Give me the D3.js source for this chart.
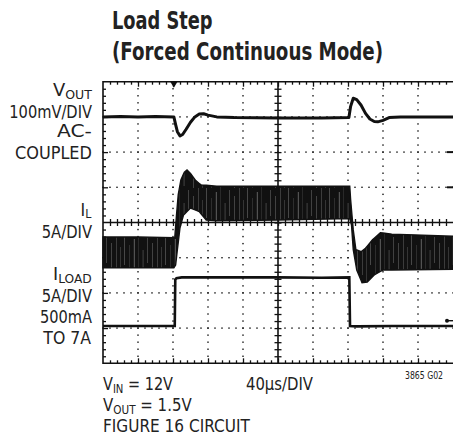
<!DOCTYPE html>
<html><head><meta charset="utf-8">
<script src="https://cdn.jsdelivr.net/npm/d3@7"></script>
<style>
html,body{margin:0;padding:0;background:#fff;}
svg{display:block;}
text{font-family:"Liberation Sans Narrow","Arial Narrow","DejaVu Sans Condensed",sans-serif;fill:#222;}
</style></head>
<body>
<svg id="c" width="453" height="437"></svg>
<script>
// ---------- DATA ----------
const titleLines = ["Load Step", "(Forced Continuous Mode)"];
const leftLabels = [
  {main:"V", sub:"OUT"}, {main:"100mV/DIV"}, {main:"AC-"}, {main:"COUPLED"},
  {main:"I", sub:"L"}, {main:"5A/DIV"},
  {main:"I", sub:"LOAD"}, {main:"5A/DIV"}, {main:"500mA"}, {main:"TO 7A"}
];
const bottomLabels = [
  {main:"V", sub:"IN", rest:" = 12V"},
  {main:"V", sub:"OUT", rest:" = 1.5V"},
  {main:"FIGURE 16 CIRCUIT"}
];
const timebaseLabel = "40µs/DIV";
const figureId = "3865 G02";

// time axis: 10 div x 40us
const timeDomain = [0, 400];
const divDomain = [-4, 4];

// VOUT (AC coupled, mV) – 100mV/DIV, trace centred at +3 div
const voutT  = [0, 20, 40, 60, 81, 83, 85, 88, 91, 95, 100, 105, 110, 115, 120, 130, 150, 200, 250, 281, 283, 286, 290, 295, 300, 305, 310, 314, 320, 327, 340, 370, 400];
const voutMV = [0, 1, 0, 1, 0, -22, -42, -54, -50, -35, -15, 0, 8, 9, 5, 0, -2, -3, -3, -2, 30, 53, 49, 33, 10, -6, -13, -14, -10, -2, 0, 0, 0];

// IL envelope (A) – 5A/DIV
const ilT     = [0, 40, 81, 82, 84, 86, 89, 93, 96, 100, 106, 112, 130, 200, 282, 283, 286, 289, 295, 300, 308, 317, 330, 400];
const ilUpper = [2.7, 2.7, 2.6, 2.6, 5.8, 8.7, 10.8, 11.9, 12.2, 11.7, 10.7, 10.1, 9.9, 9.9, 9.9, 8.0, 3.7, 0.9, 0.6, 1.1, 2.3, 3.3, 3.1, 2.8];
const ilT2    = [0, 81, 83, 85, 88, 92, 100, 110, 118, 130, 200, 282, 284, 286, 290, 296, 302, 310, 320, 400];
const ilLower = [-1.7, -1.7, -1.3, 0.9, 4.0, 5.8, 6.8, 6.3, 5.1, 5.0, 5.1, 5.3, 4.4, 0.9, -2.0, -3.8, -3.7, -2.7, -2.0, -1.9];

// ILOAD (A) – 5A/DIV
const iloadT = [0, 40, 82, 82.6, 84, 90, 150, 200, 250, 281.5, 282.3, 290, 330, 400];
const iloadA = [0.5, 0.5, 0.5, 7.1, 7.3, 7.4, 7.4, 7.4, 7.35, 7.4, 0.5, 0.45, 0.5, 0.5];

// trace reference positions (divisions from centre) and units per division
const voutPos = 3, voutPerDiv = 100;
const ilPos = -0.95, ilPerDiv = 5;
const iloadPos = -3.04, iloadPerDiv = 5;

// ---------- DRAW ----------
const svg = d3.select("#c");
const L = 103, R = 453, T = 81.7, B = 363.3;
const x = d3.scaleLinear().domain(timeDomain).range([L, R]);
const y = d3.scaleLinear().domain(divDomain).range([B, T]);
const cx = x(200), cy = y(0);
const ink = "#111";

// ripple texture for the inductor current band (purely cosmetic)
const defs = svg.append("defs");
const pat = defs.append("pattern").attr("id","ripple").attr("patternUnits","userSpaceOnUse").attr("width",41).attr("height",47);
pat.append("rect").attr("width",41).attr("height",47).attr("fill",ink);
[[1.5,0.5,0.45,0,30],[6.2,0.4,0.3,10,47],[10.9,0.6,0.55,4,38],[15.1,0.4,0.25,0,47],
 [19.8,0.5,0.4,15,45],[24.6,0.4,0.5,2,28],[29.3,0.6,0.35,8,47],[34.0,0.4,0.45,0,40],[38.2,0.5,0.3,12,47]]
 .forEach(([px,w,o,y0,y1]) =>
  pat.append("rect").attr("x",px).attr("y",y0).attr("width",w).attr("height",y1-y0).attr("fill","#fff").attr("opacity",o));

// dotted grid
const minorT = d3.range(0, 400.01, 8);
const minorD = d3.range(-4, 4.01, 0.2);
const g = svg.append("g");
[-3,-2,-1,1,2,3].forEach(d => {
  g.selectAll(null).data(minorT).enter().append("rect")
    .attr("x", t => x(t) - 0.7).attr("y", y(d) - 0.7).attr("width", 1.4).attr("height", 1.4).attr("fill", ink);
});
[40,80,120,160,240,280,320,360].forEach(t => {
  g.selectAll(null).data(minorD).enter().append("rect")
    .attr("x", x(t) - 0.7).attr("y", dd => y(dd) - 0.7).attr("width", 1.4).attr("height", 1.4).attr("fill", ink);
});

// frame
g.append("path").attr("d", `M${R},${T}H${L}V${B}H${R}`).attr("fill","none").attr("stroke",ink).attr("stroke-width",1.6);

function axisStyle(sel){ sel.select(".domain").remove(); sel.selectAll("line").attr("stroke", ink).attr("stroke-width", 1.3); sel.selectAll("text").remove(); }
const minorTv = minorT.filter(t => t % 40 !== 0);
const majorTv = d3.range(40, 400, 40);
const minorDv = minorD.filter(d => Math.abs(d - Math.round(d)) > 1e-6);
const majorDv = [-3,-2,-1,1,2,3];
svg.append("g").attr("transform",`translate(0,${T})`).call(d3.axisBottom(x).tickValues(minorTv).tickSize(3)).call(axisStyle);
svg.append("g").attr("transform",`translate(0,${T})`).call(d3.axisBottom(x).tickValues(majorTv).tickSize(5)).call(axisStyle);
svg.append("g").attr("transform",`translate(0,${B})`).call(d3.axisTop(x).tickValues(minorTv).tickSize(3)).call(axisStyle);
svg.append("g").attr("transform",`translate(0,${B})`).call(d3.axisTop(x).tickValues(majorTv).tickSize(5)).call(axisStyle);
svg.append("g").attr("transform",`translate(${L},0)`).call(d3.axisRight(y).tickValues(minorDv).tickSize(3)).call(axisStyle);
svg.append("g").attr("transform",`translate(${L},0)`).call(d3.axisRight(y).tickValues(majorDv).tickSize(5)).call(axisStyle);

// centre axes with crossing ticks
g.append("line").attr("x1",L).attr("x2",R).attr("y1",cy).attr("y2",cy).attr("stroke",ink).attr("stroke-width",1.6);
g.append("line").attr("x1",cx).attr("x2",cx).attr("y1",T).attr("y2",B).attr("stroke",ink).attr("stroke-width",1.6);
svg.append("g").attr("transform",`translate(0,${cy - 3.5})`).call(d3.axisBottom(x).tickValues(minorT.filter(t=>t>0&&t<400)).tickSize(7)).call(axisStyle);
svg.append("g").attr("transform",`translate(${cx - 3.5},0)`).call(d3.axisRight(y).tickValues(minorD.filter(d=>d>-4&&d<4)).tickSize(7)).call(axisStyle);

// scope markers
svg.append("path").attr("d", d3.symbol(d3.symbolTriangle, 22)()).attr("transform",`translate(${x(81)},${T+2}) rotate(180)`).attr("fill",ink);
[2, 1].forEach(d => svg.append("line").attr("x1", R-6).attr("x2", R).attr("y1", y(d)).attr("y2", y(d)).attr("stroke", ink).attr("stroke-width", 2));
svg.append("line").attr("x1", R-7).attr("x2", R).attr("y1", y(iloadPos + 0.25)).attr("y2", y(iloadPos + 0.25)).attr("stroke", ink).attr("stroke-width", 1.4);
svg.append("circle").attr("cx", R-6).attr("cy", y(iloadPos + 0.25)).attr("r", 2).attr("fill", ink);

// traces
const plot = svg.append("g");
const vLine = d3.line().x((d,i) => x(voutT[i])).y(d => y(voutPos + d / voutPerDiv));
plot.append("path").attr("d", vLine(voutMV)).attr("fill","none").attr("stroke",ink).attr("stroke-width",3).attr("stroke-linejoin","round");

function interp(ts, vs, t){ const i = d3.bisectLeft(ts, t); if (i<=0) return vs[0]; if (i>=ts.length) return vs[vs.length-1]; const f=(t-ts[i-1])/(ts[i]-ts[i-1]); return vs[i-1]+f*(vs[i]-vs[i-1]); }
const allT = Array.from(new Set(ilT.concat(ilT2))).sort((a,b)=>a-b);
const ilArea = d3.area().x(t => x(t))
  .y0(t => y(ilPos + interp(ilT2, ilLower, t)/ilPerDiv))
  .y1(t => y(ilPos + interp(ilT, ilUpper, t)/ilPerDiv));
plot.append("path").attr("d", ilArea(allT)).attr("fill","url(#ripple)").attr("stroke",ink).attr("stroke-width",1.4);

const lLine = d3.line().x((d,i) => x(iloadT[i])).y(d => y(iloadPos + d / iloadPerDiv));
plot.append("path").attr("d", lLine(iloadA)).attr("fill","none").attr("stroke",ink).attr("stroke-width",2.6);

// ---------- TEXT ----------
const tw = [100.6, 271];
titleLines.forEach((s,i) => {
  svg.append("text").attr("x",112).attr("y", i ? 60 : 29).text(s)
    .attr("font-size", 24).attr("font-weight","bold")
    .attr("textLength", tw[i]).attr("lengthAdjust","spacingAndGlyphs");
});

// place a label so it spans a given width, anchored left or right
function fitLabel(lab, anchorX, baseline, width, alignRight, size){
  const gl = svg.append("g");
  const t = gl.append("text").attr("x",0).attr("y",0).attr("font-size", size);
  t.append("tspan").text(lab.main);
  if (lab.sub) {
    t.append("tspan").attr("font-size", size*0.7).attr("dy", 2.5).text(lab.sub);
    if (lab.rest) t.append("tspan").attr("dy", -2.5).text(lab.rest);
  }
  const w = t.node().getBBox().width || width;
  const sx = width / w;
  const tx = alignRight ? anchorX - width : anchorX;
  gl.attr("transform", `translate(${tx},${baseline}) scale(${sx},1)`);
}
const leftY = [96, 117.5, 137, 159, 215.5, 238, 280, 302, 323, 344];
const leftW = [39, 82.7, 35, 77, 11.5, 50.3, 39, 50.3, 52, 48.7];
leftLabels.forEach((lab,i) => fitLabel(lab, 92, leftY[i], leftW[i], true, 18));

const botY = [390, 411, 432];
const botW = [70, 88.7, 147];
bottomLabels.forEach((lab,i) => fitLabel(lab, 103, botY[i], botW[i], false, 18));
fitLabel({main: timebaseLabel}, 246, 390, 67, false, 18);
svg.append("text").attr("x", 405).attr("y", 379).attr("font-size", 10).attr("textLength", 38).attr("lengthAdjust","spacingAndGlyphs").text(figureId);
</script>
</body></html>
